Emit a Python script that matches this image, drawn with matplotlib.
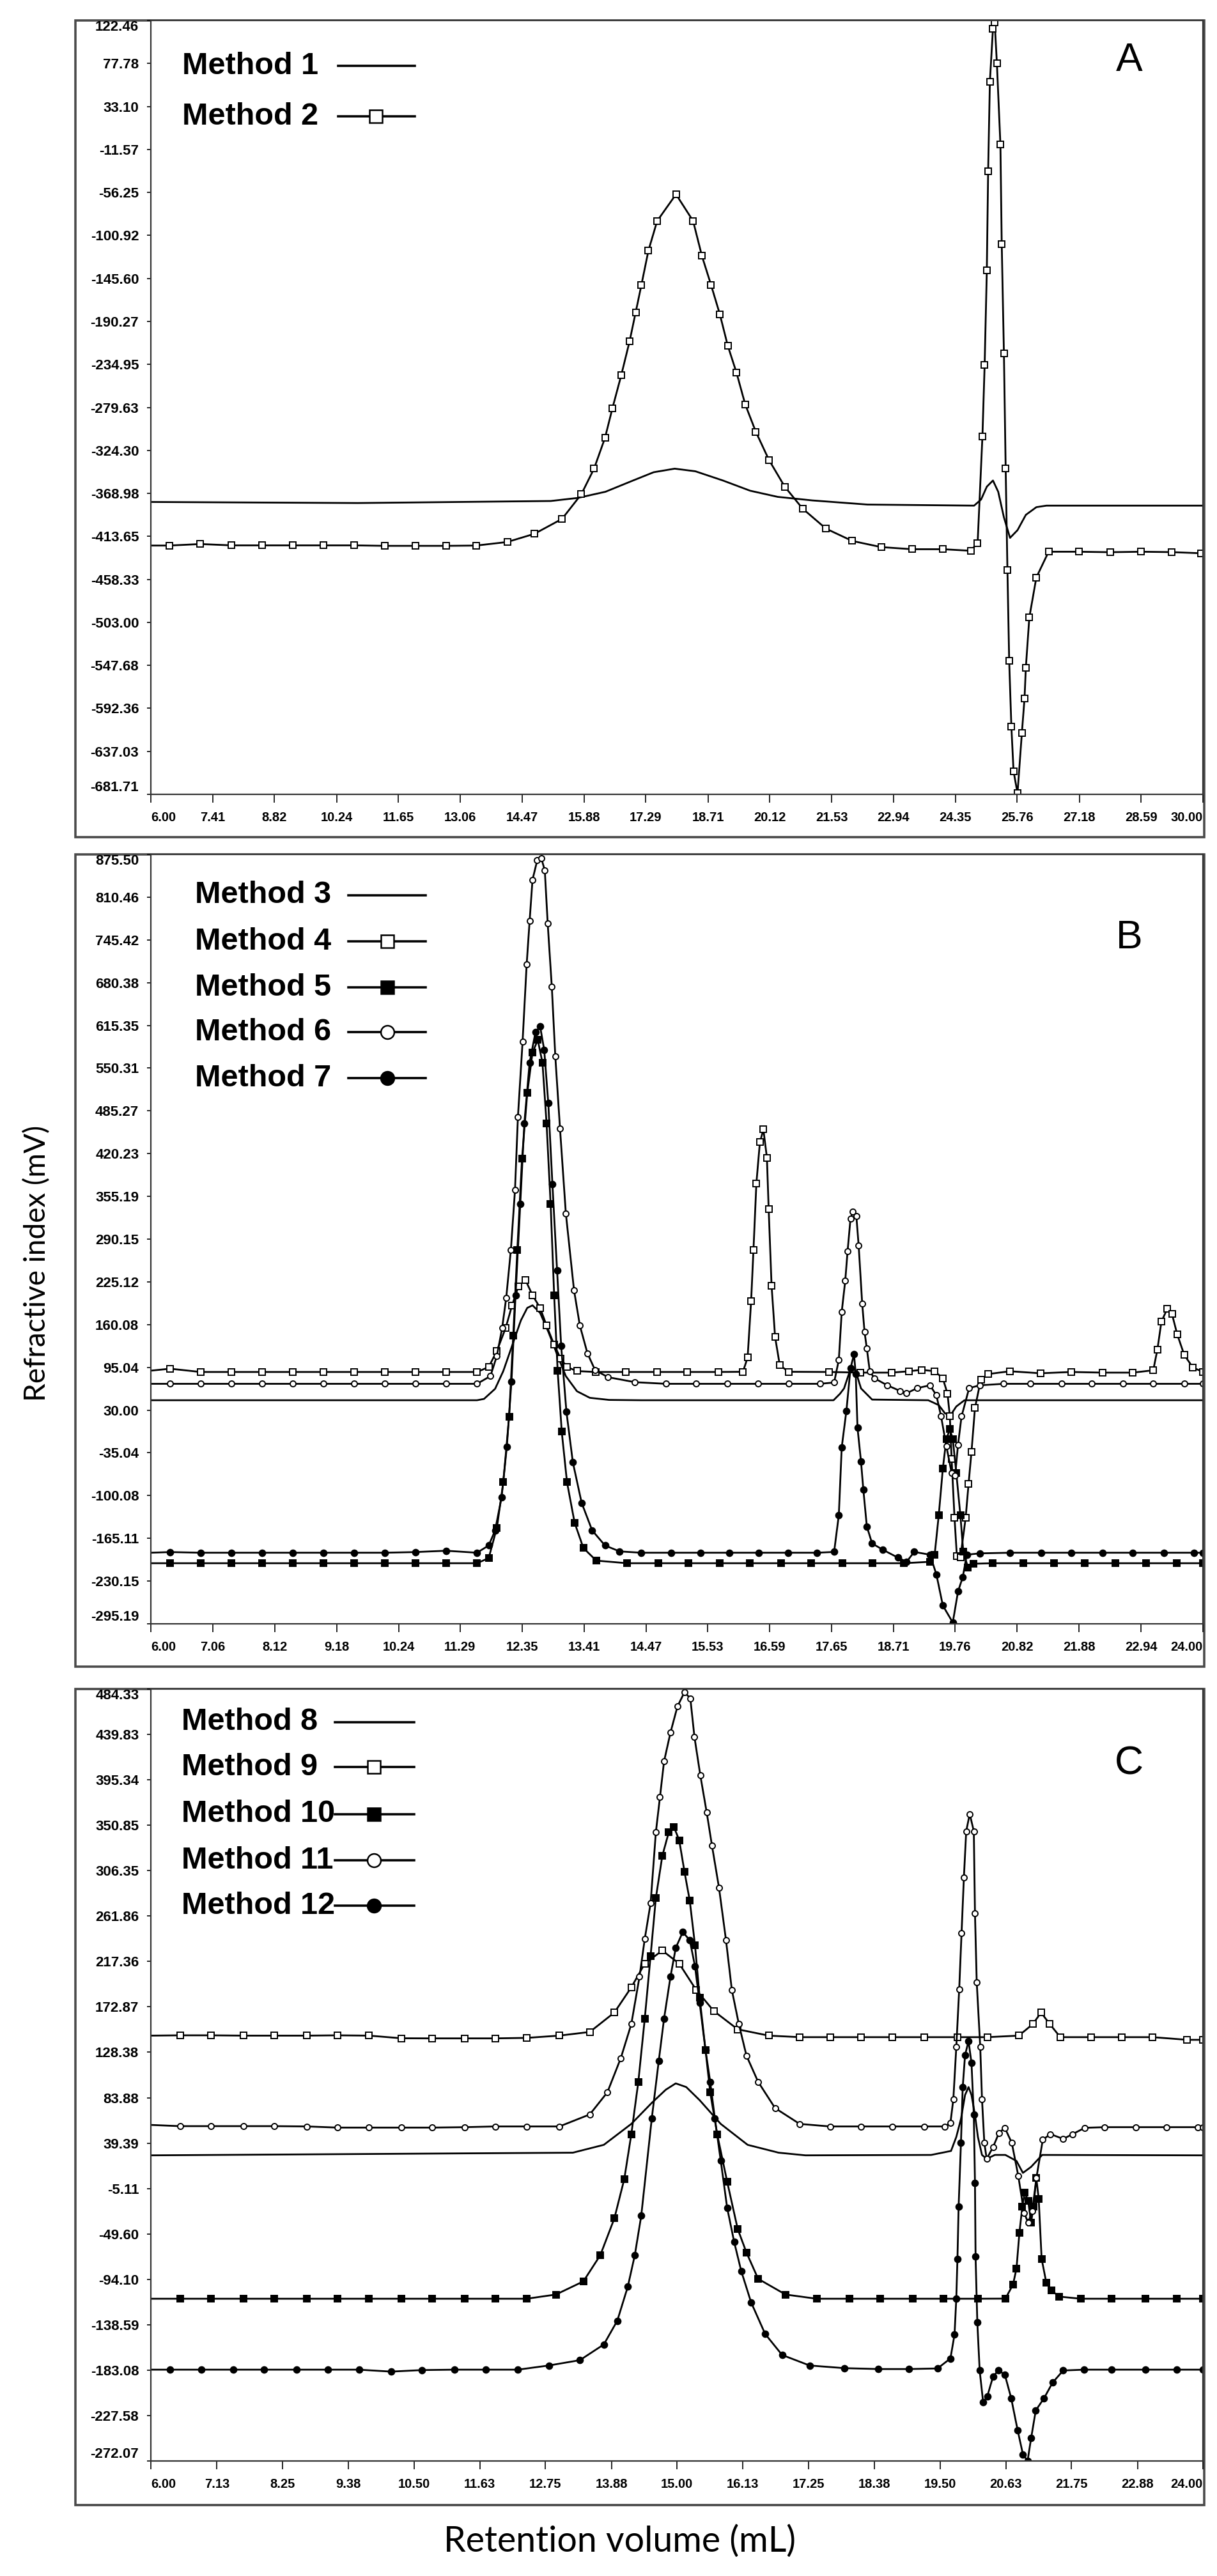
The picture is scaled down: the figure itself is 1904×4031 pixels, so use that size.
import matplotlib
matplotlib.use("Agg")
import matplotlib.pyplot as plt
from matplotlib.patches import Rectangle

plt.rcParams['font.family'] = ['Liberation Sans', 'DejaVu Sans']

# ---- panel A : (retention volume mL, signal mV) ----
m1 = [(6.00, -377.9), (10.72, -379.0), (15.12, -376.9), (15.74, -373.7), (16.37, -367.3),
      (17.00, -355.6), (17.47, -347.0), (17.95, -343.3), (18.42, -346.0), (19.05, -355.6),
      (19.67, -366.2), (20.30, -372.6), (21.09, -376.3), (22.35, -380.6), (24.78, -381.7),
      (24.94, -375.3), (25.07, -362.0), (25.21, -355.6), (25.33, -367.3), (25.46, -393.9),
      (25.60, -415.2), (25.77, -407.2), (25.96, -391.3), (26.20, -383.3), (26.43, -381.7),
      (30.00, -381.7)]
m2 = [(6.00, -423.2), (6.42, -423.2), (7.13, -421.6), (7.84, -423.0), (8.53, -423.0),
      (9.24, -423.0), (9.93, -423.0), (10.64, -423.0), (11.34, -423.5), (12.04, -423.5),
      (12.73, -423.5), (13.42, -423.2), (14.13, -419.5), (14.75, -411.0), (15.38, -395.5),
      (15.82, -369.9), (16.11, -343.3), (16.36, -311.3), (16.53, -280.4), (16.73, -246.3),
      (16.92, -211.1), (17.06, -180.8), (17.19, -152.5), (17.35, -116.8), (17.55, -85.9),
      (17.98, -58.2), (18.37, -85.9), (18.57, -122.1), (18.78, -152.5), (18.98, -182.9),
      (19.16, -215.4), (19.36, -243.6), (19.56, -276.7), (19.80, -304.9), (20.10, -334.2),
      (20.46, -362.0), (20.87, -384.9), (21.40, -405.6), (22.00, -418.4), (22.66, -424.8),
      (23.37, -427.0), (24.07, -427.0), (24.70, -428.6), (24.86, -420.6), (24.97, -309.7),
      (25.02, -235.7), (25.07, -137.1), (25.10, -34.2), (25.14, 59.0), (25.21, 113.9),
      (25.25, 120.3), (25.30, 77.7), (25.38, -6.5), (25.41, -109.9), (25.46, -223.4),
      (25.50, -343.3), (25.54, -448.3), (25.58, -543.2), (25.63, -611.4), (25.68, -657.7),
      (25.77, -680.6), (25.87, -617.8), (25.93, -582.0), (25.96, -550.1), (26.04, -497.8),
      (26.20, -456.3), (26.48, -429.6), (27.17, -429.6), (27.88, -430.1), (28.59, -429.6),
      (29.28, -430.0), (29.95, -431.2)]

# ---- panel B ----
m3 = [(6.00, 45), (11.58, 45), (11.70, 47), (11.89, 62.4), (12.03, 89.4), (12.18, 127.8),
      (12.33, 166.3), (12.44, 185.5), (12.53, 189.4), (12.66, 177.9), (12.81, 147.1),
      (12.96, 112.5), (13.10, 81.7), (13.29, 58.7), (13.51, 48.7), (13.84, 45.5), (14.39, 45),
      (17.68, 45), (17.79, 54.8), (17.86, 63), (17.99, 97.7), (18.06, 89), (18.15, 63),
      (18.34, 46), (19.30, 45), (19.48, 37.6), (19.59, 24.7), (19.70, 24.7), (19.78, 35.5),
      (19.92, 45), (24.00, 45)]
m4 = [(6.00, 90), (6.33, 93), (6.85, 88), (7.38, 88), (7.90, 88), (8.43, 88), (8.95, 88),
      (9.48, 88), (10.00, 88), (10.53, 88), (11.05, 88), (11.58, 88), (11.78, 95.5),
      (11.92, 120), (12.07, 154.8), (12.18, 189.4), (12.29, 218.6), (12.41, 227.8),
      (12.53, 204.7), (12.66, 185.5), (12.77, 158.6), (12.90, 129.4), (13.01, 108.6),
      (13.12, 95.5), (13.29, 89.4), (13.61, 88), (14.13, 88), (14.66, 88), (15.18, 88),
      (15.71, 88), (16.13, 88.3), (16.21, 110), (16.27, 195.9), (16.31, 273.8), (16.36, 375.1),
      (16.42, 437.5), (16.48, 457), (16.54, 414.1), (16.57, 336.2), (16.62, 219.2),
      (16.68, 141.3), (16.76, 98.4), (16.91, 88.3), (17.60, 88), (18.14, 87), (18.67, 87),
      (18.97, 89.1), (19.19, 91.3), (19.41, 89.1), (19.55, 78.4), (19.63, 54.8), (19.67, 20.4),
      (19.70, -44), (19.75, -134.2), (19.79, -192.2), (19.85, -194.4), (19.94, -134.2),
      (19.99, -82.7), (20.04, -33.3), (20.10, 33.3), (20.20, 76.3), (20.33, 84.9),
      (20.70, 89.1), (21.22, 86), (21.75, 88), (22.28, 87), (22.80, 87), (23.15, 90.6),
      (23.22, 121.8), (23.29, 164.7), (23.39, 184.2), (23.47, 176.4), (23.56, 145.2),
      (23.68, 114), (23.83, 94.5), (24.00, 88.3)]
m5 = [(6.00, -203), (6.33, -203), (6.85, -203), (7.38, -203), (7.90, -203), (8.43, -203),
      (8.95, -203), (9.48, -203), (10.00, -203), (10.53, -203), (11.05, -203), (11.58, -203),
      (11.78, -195.2), (11.92, -149.1), (12.03, -79.8), (12.13, 20.2), (12.20, 143.2),
      (12.27, 274), (12.35, 412.4), (12.44, 512.4), (12.53, 574), (12.62, 593.2),
      (12.70, 558.6), (12.77, 466.3), (12.84, 343.2), (12.90, 204.7), (12.96, 89.4),
      (13.03, -2.9), (13.12, -79.8), (13.25, -141.3), (13.40, -179.8), (13.62, -199),
      (14.15, -203), (14.68, -203), (15.20, -203), (15.73, -203), (16.25, -203), (16.78, -203),
      (17.30, -203), (17.83, -203), (18.35, -203), (18.88, -203), (19.33, -200.8),
      (19.41, -190), (19.48, -130), (19.55, -59), (19.61, -14), (19.67, 1), (19.72, -14),
      (19.78, -65.5), (19.85, -130), (19.90, -185.8), (19.98, -209.4), (20.07, -203.8),
      (20.40, -203), (20.93, -203), (21.45, -203), (21.98, -203), (22.50, -203), (23.03, -203),
      (23.55, -203), (24.00, -203)]
m6 = [(6.00, 70), (6.33, 70), (6.85, 70), (7.38, 70), (7.90, 70), (8.43, 70), (8.95, 70),
      (9.48, 70), (10.00, 70), (10.53, 70), (11.05, 70), (11.58, 70), (11.81, 81.7),
      (11.92, 112.5), (12.01, 154.8), (12.08, 200.9), (12.16, 274), (12.23, 364.7),
      (12.28, 475.5), (12.36, 590.9), (12.43, 708.6), (12.48, 774), (12.53, 837),
      (12.61, 866.3), (12.68, 870.1), (12.74, 850.9), (12.79, 770.1), (12.86, 673.9),
      (12.92, 567.9), (13.00, 458.6), (13.10, 329.4), (13.24, 212.4), (13.34, 158.6),
      (13.47, 116.3), (13.60, 90.9), (13.82, 80.1), (14.28, 72.5), (14.81, 70), (15.33, 70),
      (15.86, 70), (16.39, 70), (16.91, 70), (17.45, 70), (17.69, 72), (17.77, 106.3),
      (17.82, 179.4), (17.88, 226.6), (17.92, 271.7), (17.97, 321.1), (18.01, 331.8),
      (18.07, 325.4), (18.11, 280.3), (18.17, 192.2), (18.21, 149.3), (18.25, 123.5),
      (18.30, 89.1), (18.38, 78.4), (18.60, 67.7), (18.82, 59.1), (18.93, 55.6), (19.11, 63.4),
      (19.33, 67.7), (19.44, 52.6), (19.52, 20.4), (19.61, -24.7), (19.70, -65.5),
      (19.76, -69.8), (19.81, -22.5), (19.87, 20.4), (20.00, 63.4), (20.18, 67.7), (20.59, 70),
      (21.05, 70), (21.58, 70), (22.10, 70), (22.63, 70), (23.15, 70), (23.68, 70), (24.00, 70)]
m7 = [(6.00, -187), (6.33, -186), (6.85, -187), (7.38, -187), (7.90, -187), (8.43, -187),
      (8.95, -187), (9.48, -187), (10.00, -187), (10.53, -186), (11.05, -184), (11.58, -187),
      (11.78, -176), (11.89, -153), (12.00, -103), (12.09, -26.2), (12.17, 73.8),
      (12.24, 204.7), (12.32, 343.2), (12.39, 466.3), (12.48, 558.6), (12.58, 604.8),
      (12.66, 614), (12.73, 577.9), (12.80, 497.1), (12.87, 374), (12.95, 242.9),
      (13.02, 127.5), (13.11, 27.5), (13.22, -49.4), (13.37, -111), (13.55, -153),
      (13.77, -176), (14.02, -185), (14.39, -187), (14.90, -187), (15.40, -187), (15.90, -187),
      (16.40, -187), (16.90, -187), (17.40, -187), (17.69, -185.8), (17.77, -130),
      (17.82, -26.8), (17.90, 29), (17.97, 93.4), (18.03, 114.9), (18.06, 84.9), (18.09, 3.2),
      (18.15, -48.3), (18.19, -91.3), (18.25, -147.2), (18.34, -172.9), (18.52, -182.3),
      (18.78, -194.4), (18.93, -200.8), (19.06, -185.8), (19.33, -190), (19.44, -220.1),
      (19.55, -267.4), (19.72, -293.2), (19.81, -245.9), (19.89, -224.4), (19.96, -190),
      (20.18, -188), (20.70, -187), (21.23, -187), (21.75, -187), (22.28, -187), (22.80, -187),
      (23.33, -187), (23.85, -187), (24.00, -187)]

# ---- panel C ----
m8 = [(6.00, 27.4), (13.22, 30), (13.75, 37.7), (14.22, 58.2), (14.57, 78.8), (14.81, 91.7),
      (14.98, 97.9), (15.16, 94.3), (15.39, 81.4), (15.75, 58.2), (16.21, 37.7), (16.74, 30),
      (17.20, 27.4), (19.35, 27.8), (19.69, 31.7), (19.78, 45.4), (19.86, 63), (19.93, 86.5),
      (19.99, 94.3), (20.04, 86.5), (20.10, 67), (20.15, 45.4), (20.22, 27.8), (20.30, 23.9),
      (20.44, 27.8), (20.62, 27.8), (20.81, 21.9), (20.92, 10.2), (21.06, 16.1), (21.25, 27.8),
      (24.00, 27.4)]
m9 = [(6.00, 144.7), (6.50, 145), (7.03, 145), (7.59, 144.7), (8.11, 144.7), (8.67, 144.7),
      (9.19, 145), (9.73, 144.7), (10.29, 142.1), (10.81, 142), (11.37, 142), (11.89, 142),
      (12.43, 142.5), (12.99, 144.7), (13.51, 148.3), (13.93, 167.3), (14.22, 192),
      (14.45, 215.2), (14.75, 228.1), (15.04, 215.2), (15.33, 189.5), (15.63, 168.9),
      (16.04, 150.9), (16.57, 144.7), (17.10, 143.2), (17.62, 143.2), (18.15, 143.2),
      (18.68, 143.2), (19.23, 143.2), (19.80, 143.2), (20.32, 143.2), (20.85, 144.7),
      (21.09, 156), (21.23, 167.3), (21.38, 156), (21.56, 143.2), (22.09, 143.2),
      (22.61, 143.2), (23.14, 143.2), (23.73, 140.6), (24.00, 140.6)]
m10 = [(6.00, -113.1), (6.50, -113.1), (7.03, -113.1), (7.59, -113.1), (8.11, -113.1),
       (8.67, -113.1), (9.19, -113.1), (9.73, -113.1), (10.29, -113.1), (10.81, -113.1),
       (11.37, -113.1), (11.89, -113.1), (12.43, -113.1), (12.93, -109), (13.40, -96.1),
       (13.69, -70.4), (13.93, -34.4), (14.10, 4.2), (14.22, 48), (14.34, 99.4), (14.45, 161.2),
       (14.55, 222.9), (14.64, 279.5), (14.75, 320.7), (14.86, 343.8), (14.95, 349),
       (15.04, 336.1), (15.13, 305.2), (15.22, 277), (15.31, 233.2), (15.39, 181.7),
       (15.49, 130.3), (15.57, 89.1), (15.69, 47.9), (15.86, 1.6), (16.04, -44.7),
       (16.19, -67.8), (16.39, -93.6), (16.86, -109), (17.39, -113.1), (17.95, -113.1),
       (18.48, -113.1), (19.03, -113.1), (19.56, -113.1), (20.15, -113.1), (20.62, -113),
       (20.75, -99.3), (20.81, -83.6), (20.86, -48.4), (20.91, -23), (20.95, -9.3),
       (21.01, -17.1), (21.06, -38.6), (21.10, -23), (21.15, 5.1), (21.19, -15.2),
       (21.24, -73.9), (21.32, -97.3), (21.41, -105.1), (21.54, -111), (21.91, -113.1),
       (22.44, -113.1), (23.02, -113.1), (23.55, -113.1), (24.00, -113.1)]
m11 = [(6.00, 57.2), (6.50, 56), (7.03, 56), (7.59, 56), (8.11, 56), (8.67, 55.7), (9.19, 54.6),
       (9.73, 54.6), (10.29, 54.6), (10.81, 54.6), (11.37, 55), (11.89, 55.7), (12.43, 55.7),
       (12.99, 55.7), (13.51, 67.5), (13.81, 89.1), (14.04, 122.6), (14.22, 156),
       (14.36, 202.3), (14.45, 239.4), (14.55, 274.4), (14.64, 343.9), (14.71, 378.3),
       (14.78, 413.3), (14.89, 441.6), (15.01, 467.3), (15.13, 481.2), (15.23, 475.1),
       (15.30, 437.5), (15.40, 400), (15.51, 363.4), (15.60, 331), (15.72, 289.8),
       (15.84, 238.3), (15.94, 189.5), (16.06, 156), (16.19, 125.1), (16.39, 99.4),
       (16.68, 73.7), (17.10, 58.2), (17.62, 55.7), (18.15, 55.7), (18.68, 55.7), (19.23, 55.7),
       (19.58, 55.7), (19.68, 59.1), (19.73, 82.6), (19.78, 133.4), (19.83, 190.1),
       (19.87, 244.9), (19.91, 299.6), (19.95, 345), (20.01, 361.9), (20.08, 345),
       (20.10, 264.4), (20.13, 196.8), (20.19, 133.4), (20.22, 82.6), (20.26, 39.6),
       (20.30, 23.9), (20.41, 35.6), (20.51, 49.3), (20.61, 54.4), (20.73, 39.6), (20.84, 7.5),
       (20.94, -28.9), (21.01, -38.6), (21.08, -27), (21.15, 5.1), (21.26, 42.7), (21.39, 48.2),
       (21.61, 43.5), (21.77, 48.2), (21.98, 54.4), (22.32, 55), (22.85, 55), (23.38, 55),
       (23.91, 55), (24.00, 55)]
m12 = [(6.00, -182.6), (6.33, -182.6), (6.86, -182.6), (7.41, -182.6), (7.94, -182.6),
       (8.49, -182.6), (9.03, -182.6), (9.56, -182.6), (10.11, -184.5), (10.64, -183),
       (11.19, -182.6), (11.73, -182.6), (12.28, -182.6), (12.81, -178.5), (13.34, -173.3),
       (13.75, -157.9), (13.98, -134.7), (14.16, -101.3), (14.28, -70.4), (14.39, -31.8),
       (14.57, 63.4), (14.69, 120), (14.78, 161.2), (14.89, 202.3), (14.98, 230.6),
       (15.10, 246.1), (15.22, 238.3), (15.31, 212.6), (15.39, 176.6), (15.49, 130.3),
       (15.57, 99.4), (15.65, 63.4), (15.75, 22.2), (15.86, -24), (15.98, -57.5),
       (16.10, -85.8), (16.27, -116.7), (16.51, -147.6), (16.80, -168.2), (17.27, -178.5),
       (17.86, -181.1), (18.45, -182), (18.97, -182), (19.46, -181.4), (19.68, -171.6),
       (19.75, -148.2), (19.78, -113), (19.80, -73.9), (19.82, -23), (19.86, 39.6),
       (19.89, 94.3), (19.93, 125.6), (19.99, 139.3), (20.04, 117.8), (20.08, 67), (20.10, 0.5),
       (20.11, -71.9), (20.14, -136.4), (20.18, -183.4), (20.24, -214.6), (20.31, -208.8),
       (20.41, -189.2), (20.50, -183.4), (20.61, -187.3), (20.72, -210.7), (20.83, -242),
       (20.92, -265.5), (21.00, -272), (21.06, -249.8), (21.14, -222.5), (21.28, -210.7),
       (21.43, -195.1), (21.61, -183.4), (21.97, -182.6), (22.44, -182.6), (23.02, -182.6),
       (23.55, -182.6), (24.00, -182.6)]

# axis ticks as printed on the chart
a_xticks = [6.00, 7.41, 8.82, 10.24, 11.65, 13.06, 14.47, 15.88, 17.29, 18.71, 20.12, 21.53,
            22.94, 24.35, 25.76, 27.18, 28.59, 30.00]
a_yticks = [122.46, 77.78, 33.10, -11.57, -56.25, -100.92, -145.60, -190.27, -234.95, -279.63,
            -324.30, -368.98, -413.65, -458.33, -503.00, -547.68, -592.36, -637.03, -681.71]
b_xticks = [6.00, 7.06, 8.12, 9.18, 10.24, 11.29, 12.35, 13.41, 14.47, 15.53, 16.59, 17.65,
            18.71, 19.76, 20.82, 21.88, 22.94, 24.00]
b_yticks = [875.50, 810.46, 745.42, 680.38, 615.35, 550.31, 485.27, 420.23, 355.19, 290.15,
            225.12, 160.08, 95.04, 30.00, -35.04, -100.08, -165.11, -230.15, -295.19]
c_xticks = [6.00, 7.13, 8.25, 9.38, 10.50, 11.63, 12.75, 13.88, 15.00, 16.13, 17.25, 18.38,
            19.50, 20.63, 21.75, 22.88, 24.00]
c_yticks = [484.33, 439.83, 395.34, 350.85, 306.35, 261.86, 217.36, 172.87, 128.38, 83.88,
            39.39, -5.11, -49.60, -94.10, -138.59, -183.08, -227.58, -272.07]

STYLE = {
    'line': dict(marker=None),
    'osq': dict(marker='s', mfc='white', ms=7.5),
    'fsq': dict(marker='s', mfc='black', ms=7),
    'oci': dict(marker='o', mfc='white', ms=6.5),
    'fci': dict(marker='o', mfc='black', ms=7),
}

W, H = 1904, 4031
fig = plt.figure(figsize=(W / 100, H / 100), dpi=100)


def box(l, t, r, b):
    return [l / W, 1 - b / H, (r - l) / W, (b - t) / H]


def panel(rect, outer, series, xt, yt, leg, letter):
    fig.add_artist(Rectangle((outer[0], outer[1]), outer[2], outer[3], transform=fig.transFigure,
                             fill=False, ec='#4a4a4a', lw=2.6, zorder=0))
    ax = fig.add_axes(rect)
    for name, data, st in series:
        xs = [p[0] for p in data]
        ys = [p[1] for p in data]
        kw = dict(STYLE[st])
        if kw['marker']:
            kw.update(mec='black', mew=1.4, markevery=slice(1, None))
        ax.plot(xs, ys, color='black', lw=2.0, **kw)
    ax.set_xlim(xt[0], xt[-1])
    ax.set_ylim(yt[-1], yt[0])
    ax.set_xticks(xt)
    ax.set_xticklabels([f'{v:.2f}' for v in xt], fontsize=14.5, fontweight='bold')
    ax.set_yticks(yt)
    ax.set_yticklabels([f'{v:.2f}' for v in yt], fontsize=16, fontweight='bold')
    ax.tick_params(axis='x', direction='out', length=9.5, width=1.2, pad=10)
    ax.tick_params(axis='y', direction='out', length=4.5, width=1.2, pad=9)
    xl = ax.get_xticklabels()
    xl[0].set_ha('left')
    xl[-1].set_ha('right')
    yl = ax.get_yticklabels()
    yl[0].set_va('top')
    yl[-1].set_va('bottom')
    for s in ax.spines.values():
        s.set_color('#333333')
        s.set_linewidth(1.6)

    tx, lx0, lx1, mx, rows = leg
    for (name, data, st), yy in zip(series, rows):
        ax.text(tx, yy, name, transform=ax.transAxes, fontsize=35, fontweight='bold',
                va='center', ha='left')
        ax.plot([lx0, lx1], [yy, yy], transform=ax.transAxes, color='black', lw=2.6,
                clip_on=False)
        if STYLE[st]['marker']:
            ax.plot([mx], [yy], transform=ax.transAxes, marker=STYLE[st]['marker'],
                    mfc=STYLE[st]['mfc'], mec='black', mew=1.8, ms=15, color='black',
                    clip_on=False)
    ax.text(letter[1], letter[2], letter[0], transform=ax.transAxes, fontsize=45,
            va='center', ha='center')
    return ax


panel(box(236, 32, 1882, 1243), (118 / W, 1 - 1310 / H, 1766 / W, 1278 / H),
      [('Method 1', m1, 'line'), ('Method 2', m2, 'osq')],
      a_xticks, a_yticks,
      (0.030, 0.178, 0.251, 0.214, [0.941, 0.876]), ('A', 0.93, 0.948))

panel(box(236, 1337, 1882, 2541), (118 / W, 1 - 2608 / H, 1766 / W, 1271 / H),
      [('Method 3', m3, 'line'), ('Method 4', m4, 'osq'), ('Method 5', m5, 'fsq'),
       ('Method 6', m6, 'oci'), ('Method 7', m7, 'fci')],
      b_xticks, b_yticks,
      (0.042, 0.188, 0.261, 0.225, [0.947, 0.887, 0.827, 0.769, 0.709]), ('B', 0.93, 0.892))

panel(box(236, 2643, 1882, 3851), (118 / W, 1 - 3920 / H, 1766 / W, 1277 / H),
      [('Method 8', m8, 'line'), ('Method 9', m9, 'osq'), ('Method 10', m10, 'fsq'),
       ('Method 11', m11, 'oci'), ('Method 12', m12, 'fci')],
      c_xticks, c_yticks,
      (0.029, 0.175, 0.250, 0.212, [0.957, 0.899, 0.838, 0.778, 0.719]), ('C', 0.93, 0.903))

fig.text(58 / W, 1 - 1977 / H, 'Refractive index (mV)', rotation=90, fontsize=33,
         family=['Lato', 'DejaVu Sans'], ha='center', va='center')
fig.text(970 / W, 1 - 3977 / H, 'Retention volume (mL)', fontsize=40,
         family=['Lato', 'DejaVu Sans'], ha='center', va='center')

fig.savefig('out.png', dpi=100, facecolor='white')
